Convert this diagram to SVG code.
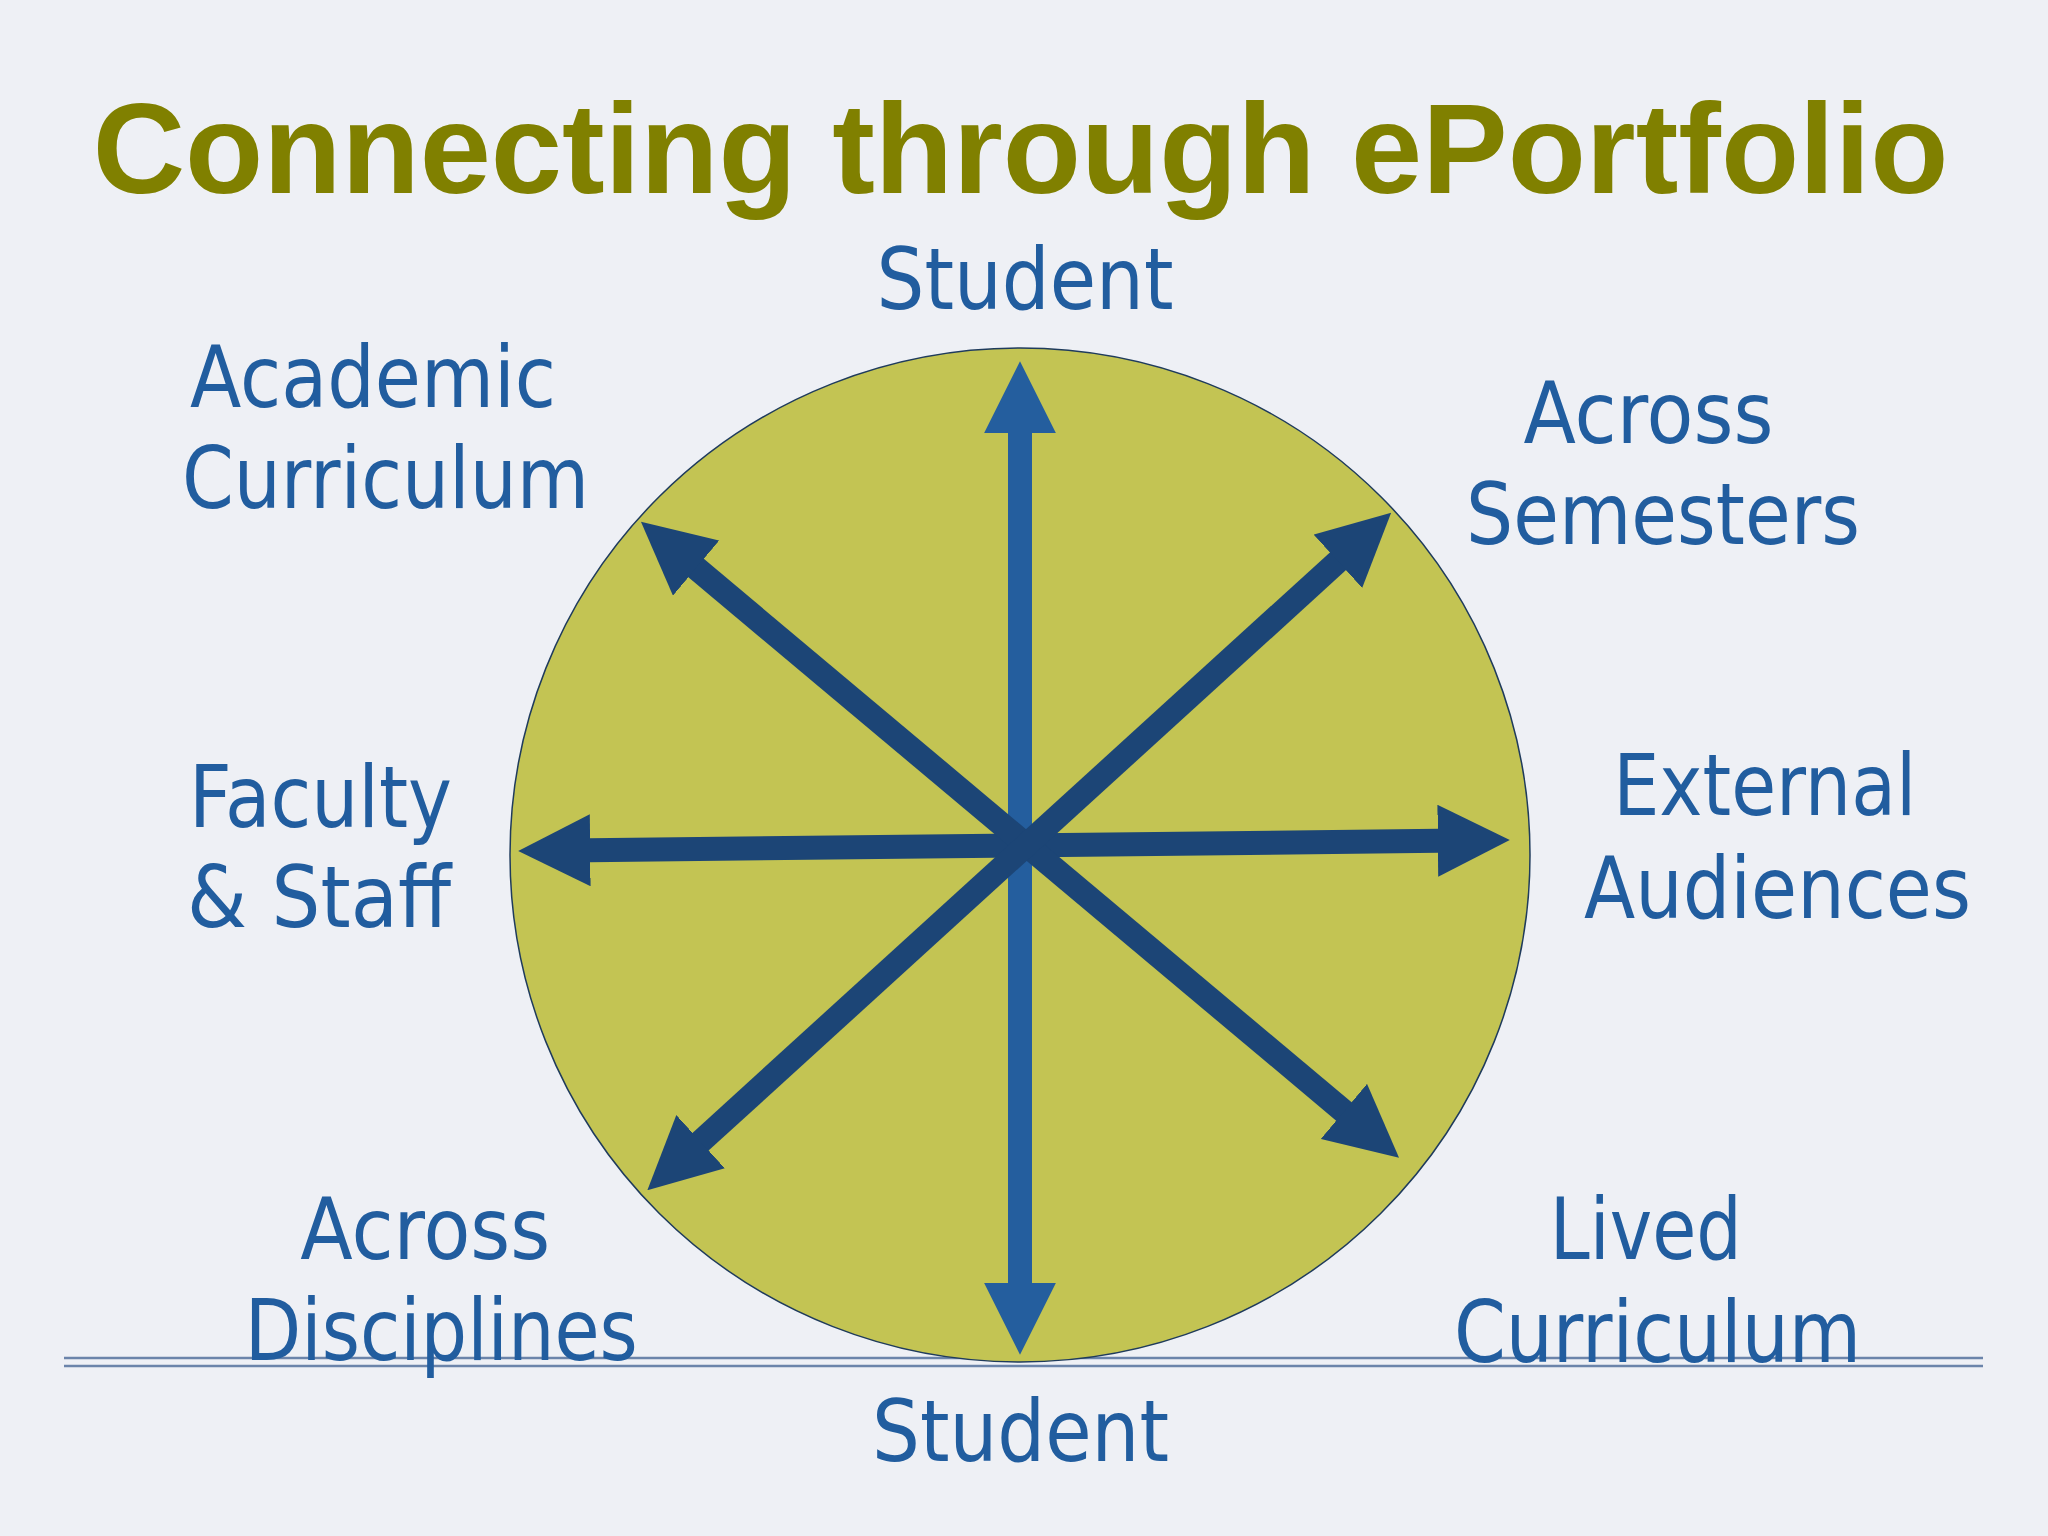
<svg xmlns="http://www.w3.org/2000/svg" width="2048" height="1536" viewBox="0 0 2048 1536">
  <defs>
    <style>
      .title { font-family: "Liberation Sans", Arial, sans-serif; font-weight: bold; font-size: 128px; fill: #808000; }
      .lbl { font-family: "DejaVu Sans", Verdana, sans-serif; font-size: 86px; fill: #215D9F; text-anchor: middle; }
      .rule { stroke: #6B84AA; stroke-width: 2.5; fill: none; }
      .shaft { stroke-width: 24; fill: none; stroke-linecap: butt; }
      .dark { stroke: #1C4576; marker-start: url(#headDark); marker-end: url(#headDark); }
      .light { stroke: #245E9E; marker-start: url(#headLight); marker-end: url(#headLight); }
    </style>
    <marker id="headDark" viewBox="0 0 3 3" refX="0.05" refY="1.5" markerWidth="3" markerHeight="3" markerUnits="strokeWidth" orient="auto-start-reverse">
      <path d="M0,0 L3,1.5 L0,3 Z" fill="#1C4576"/>
    </marker>
    <marker id="headLight" viewBox="0 0 3 3" refX="0.05" refY="1.5" markerWidth="3" markerHeight="3" markerUnits="strokeWidth" orient="auto-start-reverse">
      <path d="M0,0 L3,1.5 L0,3 Z" fill="#245E9E"/>
    </marker>
  </defs>

  <rect x="0" y="0" width="2048" height="1536" fill="#EEF0F5"/>

  <g id="title">
    <text class="title" x="1020.5" y="193" text-anchor="middle">Connecting through ePortfolio</text>
  </g>

  <g id="baseline-rules">
    <line class="rule" x1="64" y1="1358" x2="1983" y2="1358"/>
    <line class="rule" x1="64" y1="1366" x2="1983" y2="1366"/>
  </g>

  <g id="hub">
    <ellipse cx="1020" cy="855" rx="510" ry="507" fill="#C3C453" stroke="#1F3B5C" stroke-width="1.5"/>
  </g>

  <g id="connectors">
    <line class="shaft light" x1="1020" y1="432" x2="1020" y2="1284"/>
    <line class="shaft dark" x1="589" y1="850.2" x2="1439" y2="840.8"/>
    <line class="shaft dark" x1="695.2" y1="567.3" x2="1344.8" y2="1112.2"/>
    <line class="shaft dark" x1="1338.8" y1="560.5" x2="699.7" y2="1142.5"/>
  </g>

  <g id="node-student-top">
    <text class="lbl" x="1025" y="309" textLength="297" lengthAdjust="spacingAndGlyphs">Student</text>
  </g>
  <g id="node-academic-curriculum">
    <text class="lbl" x="373" y="407" textLength="366" lengthAdjust="spacingAndGlyphs">Academic</text>
    <text class="lbl" x="385.5" y="508" textLength="407" lengthAdjust="spacingAndGlyphs">Curriculum</text>
  </g>
  <g id="node-across-semesters">
    <text class="lbl" x="1648.4" y="443" textLength="250" lengthAdjust="spacingAndGlyphs">Across</text>
    <text class="lbl" x="1663" y="544" textLength="394" lengthAdjust="spacingAndGlyphs">Semesters</text>
  </g>
  <g id="node-faculty-staff">
    <text class="lbl" x="320.5" y="827" textLength="263" lengthAdjust="spacingAndGlyphs">Faculty</text>
    <text class="lbl" x="319" y="927" textLength="264" lengthAdjust="spacingAndGlyphs">&amp; Staff</text>
  </g>
  <g id="node-external-audiences">
    <text class="lbl" x="1764.7" y="815" textLength="303" lengthAdjust="spacingAndGlyphs">External</text>
    <text class="lbl" x="1777.5" y="918" textLength="387" lengthAdjust="spacingAndGlyphs">Audiences</text>
  </g>
  <g id="node-across-disciplines">
    <text class="lbl" x="425.3" y="1259" textLength="250" lengthAdjust="spacingAndGlyphs">Across</text>
    <text class="lbl" x="441.3" y="1360" textLength="393" lengthAdjust="spacingAndGlyphs">Disciplines</text>
  </g>
  <g id="node-lived-curriculum">
    <text class="lbl" x="1645.8" y="1259" textLength="192" lengthAdjust="spacingAndGlyphs">Lived</text>
    <text class="lbl" x="1657.5" y="1362" textLength="407" lengthAdjust="spacingAndGlyphs">Curriculum</text>
  </g>
  <g id="node-student-bottom">
    <text class="lbl" x="1020.5" y="1461" textLength="297" lengthAdjust="spacingAndGlyphs">Student</text>
  </g>
</svg>
